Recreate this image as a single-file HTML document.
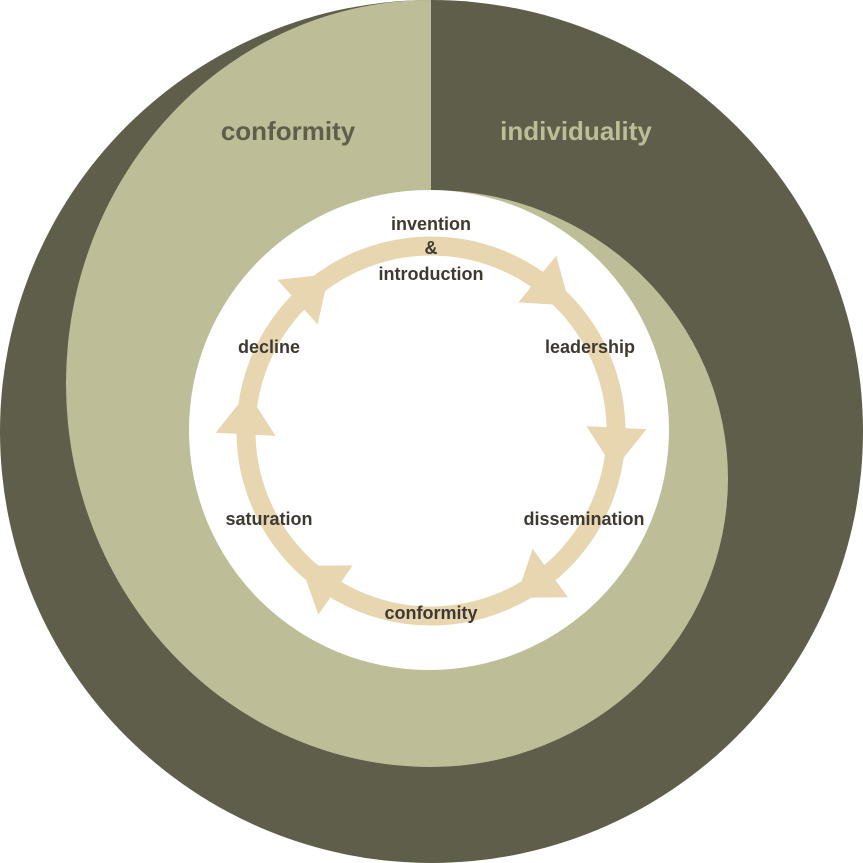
<!DOCTYPE html>
<html><head><style>body{margin:0;background:#fff}svg{display:block}
text{font-family:"Liberation Sans",sans-serif;font-weight:bold}</style></head><body>
<svg width="863" height="863" viewBox="0 0 863 863">
<circle cx="431.5" cy="431.5" r="431.5" fill="#5f5e4a"/>
<path d="M431,0 A365,383.5 0 0 0 431,767 A297,288.5 0 0 0 431,190 Z" fill="#bdbe98"/>
<circle cx="429" cy="430" r="240" fill="#fff"/>
<circle cx="431" cy="431" r="185" fill="none" stroke="#e8d6b0" stroke-width="19"/>
<g fill="#e8d6b0">
<polygon points="460,246 418,216 418,276" transform="rotate(39 431 431)"/>
<polygon points="460,246 418,216 418,276" transform="rotate(93 431 431)"/>
<polygon points="460,246 418,216 418,276" transform="rotate(144 431 431)"/>
<polygon points="460,246 418,216 418,276" transform="rotate(215 431 431)"/>
<polygon points="460,246 418,216 418,276" transform="rotate(273 431 431)"/>
<polygon points="460,246 418,216 418,276" transform="rotate(318 431 431)"/>
</g>
<text x="288" y="140" font-size="26" fill="#5f5e4a" text-anchor="middle">conformity</text>
<text x="576" y="140" font-size="26" fill="#bdbe98" text-anchor="middle">individuality</text>
<g font-size="18" fill="#3e3a32" text-anchor="middle">
<text x="431" y="230">invention</text>
<text x="431" y="254">&amp;</text>
<text x="431" y="280">introduction</text>
<text x="590" y="353">leadership</text>
<text x="584" y="525">dissemination</text>
<text x="431" y="619">conformity</text>
<text x="269" y="525">saturation</text>
<text x="269" y="353">decline</text>
</g>
</svg></body></html>
